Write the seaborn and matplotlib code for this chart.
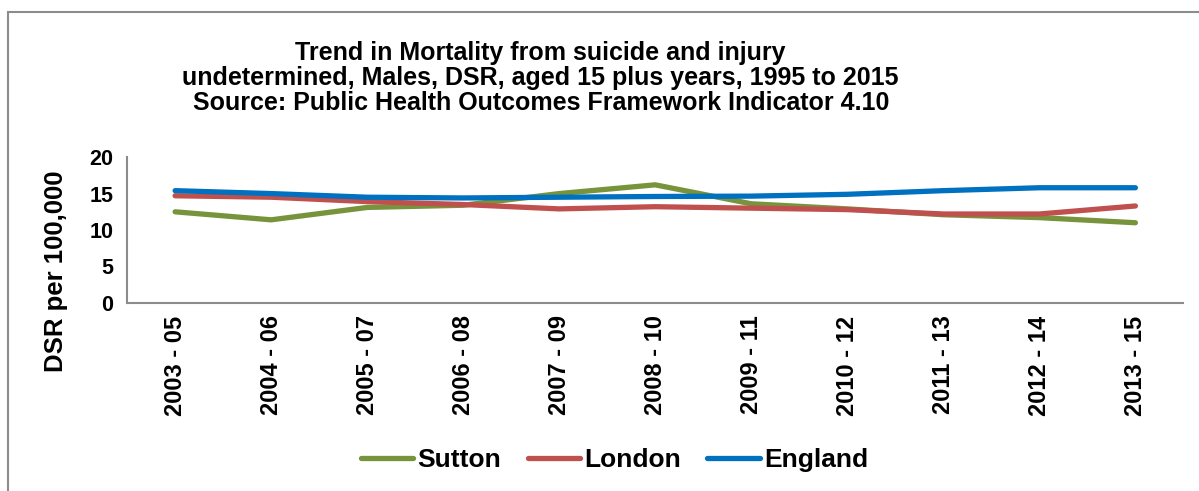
import numpy as np
import pandas as pd
import matplotlib
matplotlib.use("Agg")
import matplotlib.pyplot as plt
import matplotlib.patches as mpatches
import seaborn as sns

# Data
periods = ["2003 - 05", "2004 - 06", "2005 - 07", "2006 - 08", "2007 - 09",
           "2008 - 10", "2009 - 11", "2010 - 12", "2011 - 13", "2012 - 14",
           "2013 - 15"]
sutton = [12.5, 11.4, 13.1, 13.4, 15.0, 16.2, 13.6, 12.9, 12.1, 11.7, 11.0]
london = [14.7, 14.5, 13.9, 13.5, 12.9, 13.2, 13.0, 12.8, 12.2, 12.2, 13.3]
england = [15.4, 15.0, 14.5, 14.4, 14.5, 14.6, 14.65, 14.9, 15.4, 15.8, 15.8]

areas = ["Sutton", "London", "England"]
palette = {"Sutton": "#77933C", "London": "#C0504D", "England": "#0070C0"}

df = pd.concat([
    pd.DataFrame({"period": periods, "area": name, "dsr": vals})
    for name, vals in zip(areas, [sutton, london, england])
])

sns.set_theme(style="white")
plt.rcParams["font.family"] = ["Liberation Sans", "DejaVu Sans"]
plt.rcParams["font.weight"] = "bold"
plt.rcParams["text.color"] = "black"
plt.rcParams["axes.labelcolor"] = "black"

fig = plt.figure(figsize=(11.99, 4.91), dpi=100)
ax = fig.add_axes([0.106, 0.383, 0.881, 0.297])

sns.lineplot(data=df, x="period", y="dsr", hue="area", hue_order=areas,
             palette=palette, linewidth=3.8, sort=False, ax=ax,
             solid_capstyle="round")

# Axis styling, Excel-like
ax.set_xlim(-0.5, len(periods) - 0.5)
ax.set_ylim(0, 20)
ax.set_yticks([0, 5, 10, 15, 20])
ax.set_xticks(range(len(periods)))
ax.set_xticklabels(periods, rotation=90, fontsize=17, fontweight="bold")
ax.set_xticks(np.arange(-0.5, len(periods), 1.0), minor=True)
ax.tick_params(axis="x", which="major", length=0, pad=9, labelcolor="black")
ax.tick_params(axis="x", which="minor", length=6, width=1.5, color="#8c8c8c",
               direction="out")
ax.tick_params(axis="y", length=6, width=1.5, color="#8c8c8c", direction="out",
               labelsize=15.5, pad=4, labelcolor="black")
for lab in ax.get_yticklabels():
    lab.set_fontweight("bold")

for side in ["top", "right"]:
    ax.spines[side].set_visible(False)
for side in ["left", "bottom"]:
    ax.spines[side].set_color("#8c8c8c")
    ax.spines[side].set_linewidth(1.5)

ax.set_xlabel("")
ax.set_ylabel("")
fig.text(0.047, 0.448, "DSR per 100,000", rotation=90, ha="center",
         va="center", fontsize=18.5, fontweight="bold")

# Legend at the bottom
handles, labels = ax.get_legend_handles_labels()
ax.get_legend().remove()
fig.legend(handles, labels, loc="center", bbox_to_anchor=(0.5125, 0.063),
           ncol=3, frameon=False, handlelength=2.0,
           handletextpad=0.15, columnspacing=1.0,
           prop={"weight": "bold", "size": 19})

# Title
fig.text(0.451, 0.841,
         "Trend in Mortality from suicide and injury\n"
         "undetermined, Males, DSR, aged 15 plus years, 1995 to 2015\n"
         "Source: Public Health Outcomes Framework Indicator 4.10",
         ha="center", va="center", fontsize=18, fontweight="bold",
         linespacing=1.03)

# Chart area border (clipped on right and bottom like the reference)
border = mpatches.Rectangle((8 / 1199, -0.2), 1.3, 1.2 - 12 / 491,
                            transform=fig.transFigure, fill=False,
                            edgecolor="#8c8c8c", linewidth=1.5, clip_on=False)
fig.patches.append(border)

fig.savefig("out.png", dpi=100)
